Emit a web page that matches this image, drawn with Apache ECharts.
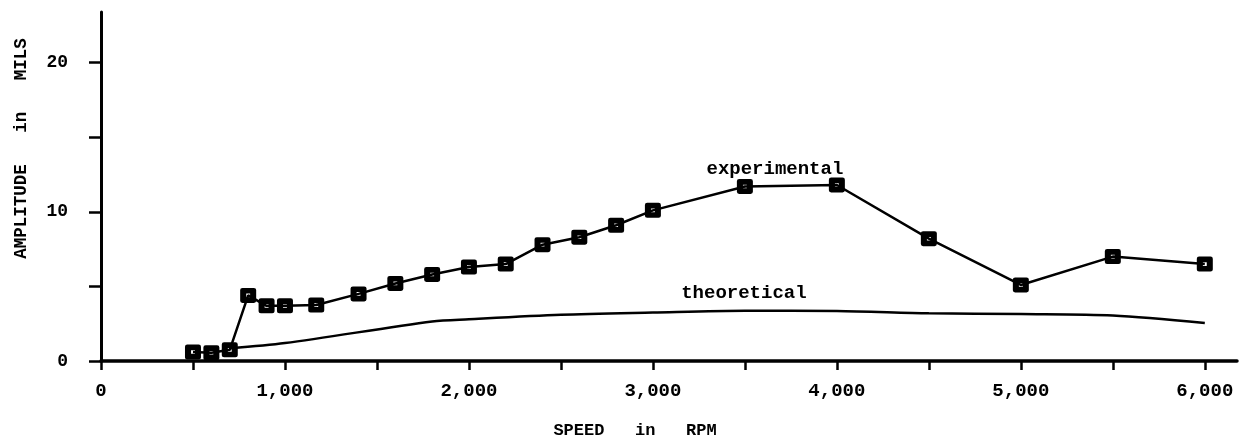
<!DOCTYPE html>
<html>
<head>
<meta charset="utf-8">
<script src="https://cdn.jsdelivr.net/npm/echarts@6/dist/echarts.min.js"></script>
<style>
html,body{margin:0;padding:0;background:#fff;}
#chart{width:1247px;height:445px;}
</style>
</head>
<body>
<div id="chart"></div>
<script>
// measured speed / amplitude
let expSpeed=[500,600,700,800,900,1000,1170,1400,1600,1800,2000,2200,2400,2600,2800,3000,3500,4000,4500,5000,5500,6000];
let expAmp=[0.6,0.55,0.75,4.4,3.7,3.7,3.75,4.5,5.2,5.8,6.3,6.5,7.8,8.3,9.1,10.1,11.7,11.8,8.2,5.1,7.0,6.5];
// theoretical curve
let theoSpeed=[700,1000,1800,2000,2500,3000,3500,4000,4500,5000,5500,6000];
let theoAmp=[0.85,1.2,2.65,2.8,3.1,3.25,3.37,3.35,3.2,3.15,3.05,2.55];
let xTicks=[0,500,1000,1500,2000,2500,3000,3500,4000,4500,5000,5500,6000];
let xLabels=[0,1000,2000,3000,4000,5000,6000];
let yTicks=[0,5,10,15,20];
let yLabels=[0,10,20];

let font="'Liberation Mono', 'DejaVu Sans Mono', monospace";
// square marker with a small hole in the middle
let marker="path://M0,2 Q0,0 2,0 L12,0 Q14,0 14,2 L14,12 Q14,14 12,14 L2,14 Q0,14 0,12 Z M5.3,5.3 L5.3,8.7 L8.7,8.7 L8.7,5.3 Z";

function pairs(xs,ys){
    let out=[];
    for(let i=0;i<xs.length;i++){
        out.push([xs[i],ys[i]]);
    }
    return out;
}

let expData=pairs(expSpeed,expAmp);
let theoData=pairs(theoSpeed,theoAmp);
// tag one point on each line with its name
let ei=expSpeed.indexOf(3500);
expData[ei]={value:expData[ei],label:{show:true,formatter:'experimental',position:'inside',offset:[30,-17]}};
let ti=theoSpeed.indexOf(3500);
theoData[ti]={value:theoData[ti],label:{show:true,formatter:'theoretical',position:'inside',offset:[-1,-18]}};

var myChart=echarts.init(document.getElementById('chart'));
var option={
    backgroundColor:'#fff',
    animation:false,
    textStyle:{fontFamily:font,color:'#000'},
    grid:{left:101,right:10,top:12,bottom:84},
    xAxis:{
        type:'value',
        min:0,
        max:6175,
        name:'SPEED   in   RPM',
        nameLocation:'middle',
        nameGap:61,
        nameTextStyle:{fontFamily:font,fontWeight:'bold',fontSize:17,color:'#000',padding:[0,68,0,0]},
        splitLine:{show:false},
        axisLine:{lineStyle:{color:'#000',width:3.5}},
        axisTick:{length:9,lineStyle:{color:'#000',width:2.5},customValues:xTicks},
        axisLabel:{
            customValues:xLabels,
            margin:21,
            fontFamily:font,fontWeight:'bold',fontSize:19,color:'#000',
            formatter:function(v){return v.toLocaleString('en-US');}
        }
    },
    yAxis:{
        type:'value',
        min:0,
        max:23.4,
        name:'AMPLITUDE   in   MILS',
        nameLocation:'middle',
        nameRotate:90,
        nameGap:70,
        nameTextStyle:{fontFamily:font,fontWeight:'bold',fontSize:17.5,color:'#000',padding:[0,0,0,76]},
        splitLine:{show:false},
        axisLine:{lineStyle:{color:'#000',width:3}},
        axisTick:{length:12,lineStyle:{color:'#000',width:2.5},customValues:yTicks},
        axisLabel:{customValues:yLabels,margin:33,fontFamily:font,fontWeight:'bold',fontSize:18,color:'#000'}
    },
    series:[{
        name:'theoretical',
        type:'line',
        data:theoData,
        showSymbol:true,
        symbol:'circle',
        symbolSize:0.1,
        itemStyle:{color:'transparent'},
        smooth:0.3,
        lineStyle:{color:'#000',width:2.5},
        label:{fontFamily:font,fontWeight:'bold',fontSize:19,color:'#000'},
        z:2
    },{
        name:'experimental',
        type:'line',
        data:expData,
        symbol:marker,
        symbolSize:[16,15],
        itemStyle:{color:'#000'},
        lineStyle:{color:'#000',width:2.5},
        label:{fontFamily:font,fontWeight:'bold',fontSize:19,color:'#000'},
        z:3
    }]
};
myChart.setOption(option);
</script>
</body>
</html>
